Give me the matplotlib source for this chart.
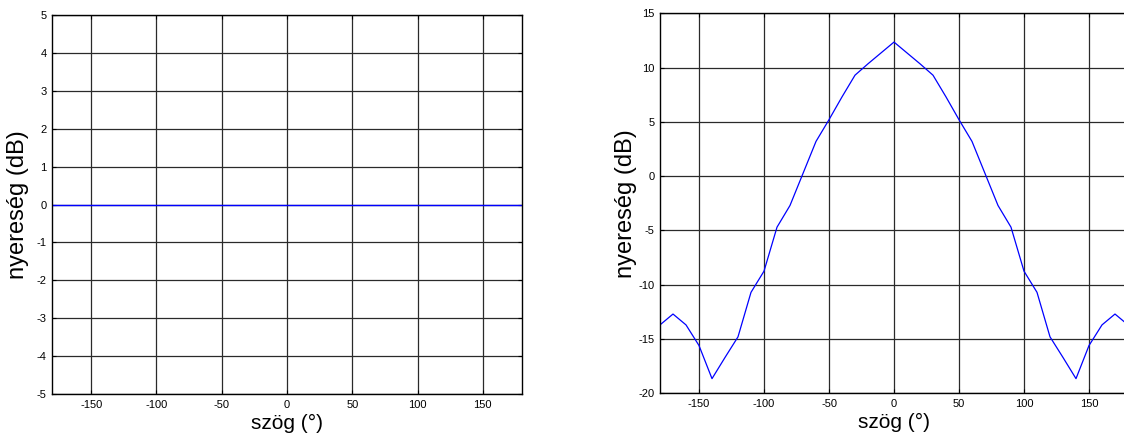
import numpy as np
import matplotlib.pyplot as plt

plt.rcParams['font.family'] = ['Liberation Sans', 'DejaVu Sans']
plt.rcParams['axes.unicode_minus'] = False

# left plot: flat 0 dB gain
angle_flat = [-180, 180]
gain_flat = [0, 0]

# right plot: measured pattern, every 10 degrees
angle = list(range(-180, 181, 10))
gain = [-13.7, -12.7, -13.7, -15.6, -18.65, -16.7, -14.8, -10.7, -8.75, -4.7,
        -2.7, 0.25, 3.2, 5.2, 7.3, 9.3, 10.35, 11.35, 12.35,
        11.35, 10.35, 9.3, 7.3, 5.2, 3.2, 0.25, -2.7, -4.7, -8.75,
        -10.7, -14.8, -16.7, -18.65, -15.6, -13.7, -12.7, -13.7]

xticks = [-150, -100, -50, 0, 50, 100, 150]

fig = plt.figure(figsize=(11.24, 4.4), dpi=100)
ax1 = fig.add_axes([52/1124, 1-394/440, 470/1124, 379/440])
ax2 = fig.add_axes([660/1124, 1-393.3/440, 468/1124, 380/440])   # runs off the right edge like the original

def style(ax, ylim, ystep, ypad):
    ax.set_xlim(-180, 180)
    ax.set_ylim(*ylim)
    ax.set_xticks(xticks)
    ax.set_yticks(np.arange(ylim[0], ylim[1] + ystep/2, ystep))
    ax.grid(True, color='#2a2a2a', linewidth=0.9, linestyle='-')
    ax.tick_params(direction='in', length=3, width=0.8, labelsize=8,
                   top=True, right=True, pad=4)
    for s in ax.spines.values():
        s.set_linewidth(1.0)
    ax.set_xlabel('szög (°)', fontsize=15, labelpad=3)
    ax.set_ylabel('nyereség (dB)', fontsize=17, labelpad=ypad)

ax1.plot(angle_flat, gain_flat, color='#0000ff', linewidth=1.0)
style(ax1, (-5, 5), 1, 5)

ax2.plot(angle, gain, color='#0000ff', linewidth=0.9)
style(ax2, (-20, 15), 5, 1)

fig.savefig('out.png', dpi=100)
